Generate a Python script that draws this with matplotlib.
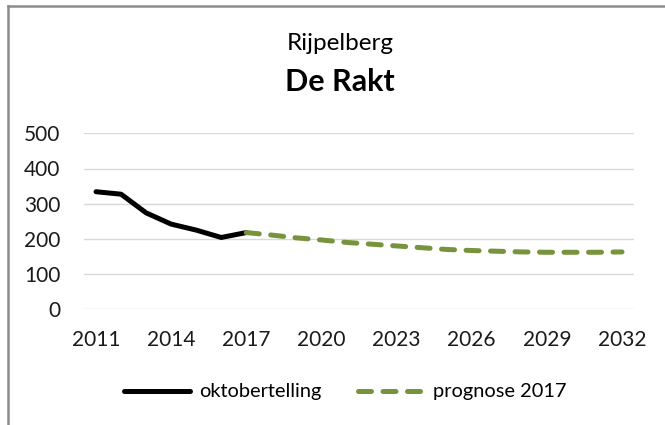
import matplotlib
matplotlib.use('Agg')
import matplotlib.pyplot as plt
from matplotlib.lines import Line2D

years_obs = [2011, 2012, 2013, 2014, 2015, 2016, 2017]
oktobertelling = [334, 327, 274, 242, 225, 204, 218]

years_prog = list(range(2017, 2033))
prognose = [218, 211, 203, 197, 190, 185, 180, 175, 170, 167, 165, 163, 162, 162, 162, 163]

xticks = [2011, 2014, 2017, 2020, 2023, 2026, 2029, 2032]
yticks = [0, 100, 200, 300, 400, 500]

green = '#77933C'
plt.rcParams['font.family'] = ['Lato', 'DejaVu Sans']

fig = plt.figure(figsize=(6.65, 4.25), dpi=100)
ax = fig.add_axes([84 / 665, 1 - 309.3 / 425, 550 / 665, 176 / 425])

ax.plot(years_obs, oktobertelling, color='black', lw=3.6, solid_capstyle='round', solid_joinstyle='round')
ax.plot(years_prog, prognose, color=green, lw=3.6, dashes=(2.6, 2.3), dash_capstyle='round')

ax.set_xlim(2010.52, 2032.48)
ax.set_ylim(0, 500)
ax.set_xticks(xticks)
ax.set_yticks(yticks)
ax.tick_params(length=0, labelsize=15, colors='#1a1a1a')
ax.tick_params(axis='x', pad=15)
ax.tick_params(axis='y', pad=17)
ax.grid(axis='y', color='#d9d9d9', lw=1)
ax.set_axisbelow(True)
for s in ax.spines.values():
    s.set_visible(False)

fig.text(0.511, 1 - 44 / 425, 'Rijpelberg', ha='center', va='center', fontsize=17.5)
fig.text(0.511, 1 - 82 / 425, 'De Rakt', ha='center', va='center', fontsize=22, fontweight='bold')

# border: top and left only
fig.add_artist(Line2D([8 / 665, 8 / 665], [0, 1 - 5.5 / 425], color='#8c8c8c', lw=1.8, transform=fig.transFigure))
fig.add_artist(Line2D([8 / 665, 1], [1 - 5.5 / 425, 1 - 5.5 / 425], color='#8c8c8c', lw=1.8, transform=fig.transFigure))

h1 = Line2D([], [], color='black', lw=3.6, solid_capstyle='round')
h2 = Line2D([], [], color=green, lw=3.6, dashes=(2.6, 2.3), dash_capstyle='round')
fig.legend([h1, h2], ['oktobertelling', 'prognose 2017'], loc='center',
           bbox_to_anchor=(0.519, 1 - 392 / 425), ncol=2, frameon=False, fontsize=14.4,
           handlelength=3.3, columnspacing=1.8, handletextpad=0.45)

fig.savefig('out.png', dpi=100)
